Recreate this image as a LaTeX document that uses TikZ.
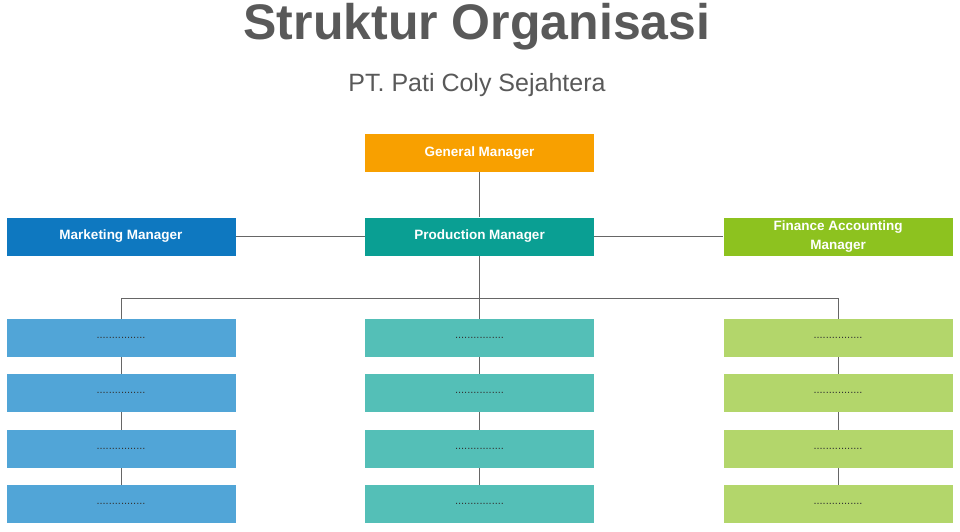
\documentclass[tikz,border=0pt]{standalone}
\usepackage{fontspec}
\setmainfont{Liberation Sans}
\begin{document}
\begin{tikzpicture}[x=1pt,y=-1pt,
  box/.style={minimum width=229pt,minimum height=38pt,inner sep=2pt,align=center,text=white,font=\bfseries\fontsize{13.5}{15}\selectfont},
  sub/.style={box,text=black!80,font=\fontsize{11}{12}\selectfont},
  ln/.style={draw=gray!80!black,line width=0.9pt}]
\definecolor{cor}{HTML}{F8A000}
\definecolor{cbl}{HTML}{0E78C0}
\definecolor{ctl}{HTML}{0A9F93}
\definecolor{cgr}{HTML}{8DC21F}
\definecolor{lbl}{HTML}{51A5D7}
\definecolor{ltl}{HTML}{54BFB7}
\definecolor{lgr}{HTML}{B3D66B}
\useasboundingbox (0,0) rectangle (960,531);
\node (title) at (477,27) {\bfseries\color{black!65}\fontsize{50}{56}\selectfont Struktur Organisasi};
\node (subt) at (477,85) {\color{black!65}\fontsize{25}{28}\selectfont PT. Pati Coly Sejahtera};
\node[box,fill=cor] (gm) at (479.5,153) {General Manager};
\node[box,fill=cbl] (mm) at (121,236.5) {Marketing Manager};
\node[box,fill=ctl] (pm) at (479.5,236.5) {Production Manager};
\node[box,fill=cgr,font=\bfseries\fontsize{13.5}{19}\selectfont] (fm) at (838,236.5) {Finance Accounting\\Manager};
\coordinate (bar) at (479.5,298);
\draw[ln] (gm) -- (pm);
\draw[ln] (mm) -- (pm);
\draw[ln] (pm) -- (fm);
\draw[ln] (pm) -- (bar);
\foreach \c/\xx/\nm in {lbl/121/a,ltl/479.5/b,lgr/838/c}{
  \foreach \i/\yy in {1/338,2/393,3/449,4/504}{
    \node[sub,fill=\c] (\nm\i) at (\xx,\yy) {................};
  }
  \draw[ln] (\nm1.north) |- (bar);
  \draw[ln] (\nm1) -- (\nm2) (\nm2) -- (\nm3) (\nm3) -- (\nm4);
}
\end{tikzpicture}
\end{document}
